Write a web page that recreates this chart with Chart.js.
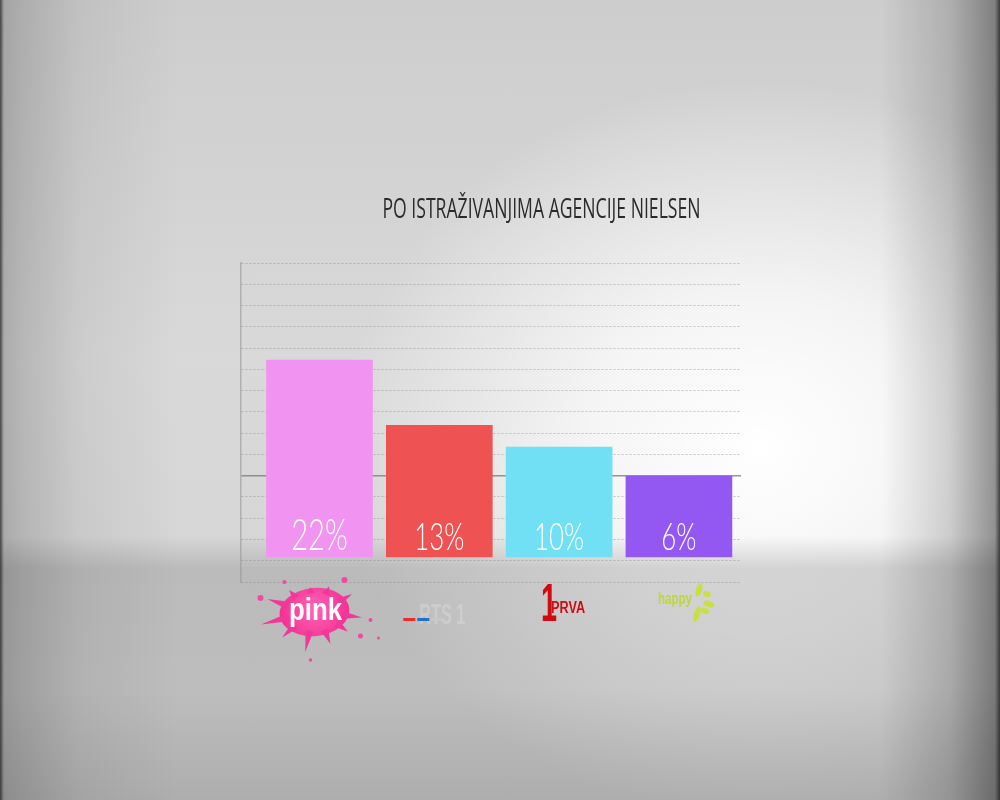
<!DOCTYPE html>
<html>
<head>
<meta charset="utf-8">
<script src="https://cdn.jsdelivr.net/npm/chart.js@4.4.1/dist/chart.umd.min.js"></script>
<style>
html,body{margin:0;padding:0;width:1000px;height:800px;overflow:hidden;}
body{
  background:
    linear-gradient(to right, rgba(20,20,20,0.75) 0px, rgba(40,40,40,0.25) 4px, rgba(0,0,0,0.16) 2%, rgba(0,0,0,0.06) 8%, rgba(0,0,0,0) 18%, rgba(0,0,0,0) 88%, rgba(0,0,0,0.15) 95%, rgba(0,0,0,0.38) 99.5%, rgba(20,20,20,0.8) 100%),
    linear-gradient(to bottom, rgba(100,100,100,0) 67%, rgba(100,100,100,0.24) 71%, rgba(100,100,100,0.2) 86%, rgba(90,90,90,0.3) 100%),
    radial-gradient(ellipse 42% 46% at 76% 56%, rgba(255,255,255,1) 0%, rgba(255,255,255,0.75) 40%, rgba(255,255,255,0) 100%),
    linear-gradient(to bottom, #cdcdcd 0%, #d9d9d9 45%, #d2d2d2 100%);
}
canvas{position:absolute;left:0;top:0;}
</style>
</head>
<body>
<canvas id="c" width="1000" height="800"></canvas>
<script>
const title = "PO ISTRAŽIVANJIMA AGENCIJE NIELSEN";
const categories = ["pink", "RTS 1", "PRVA", "happy"];
const values = [22, 13, 10, 6];
const valueLabels = ["22%", "13%", "10%", "6%"];
const barColors = ["#f193f1", "#ee5253", "#72e0f4", "#9458f2"];

const Y_MIN = -8.62, Y_MAX = 35.38, Y_BASE = -5.17;
const Y_STEP = (Y_MAX - Y_MIN) / 15;

const points = values.map((v, i) => ({x: i, y: v}));

const decor = {
  id: 'decor',
  afterDatasetsDraw(chart) {
    const ctx = chart.ctx;
    const xs = chart.scales.x, ys = chart.scales.y;
    // title
    ctx.save();
    ctx.fillStyle = '#2b2b2b';
    ctx.font = '27px "Open Sans", "Liberation Sans", sans-serif';
    ctx.textAlign = 'center';
    ctx.textBaseline = 'alphabetic';
    ctx.fillText(title, 541.5, 218, 318);
    ctx.restore();

    // value labels
    const meta = chart.getDatasetMeta(0);
    meta.data.forEach((bar, i) => {
      ctx.save();
      ctx.fillStyle = '#ffffff';
      const size = i === 0 ? 43 : 38;
      ctx.font = '300 ' + size + 'px Lato, "Open Sans", sans-serif';
      ctx.textAlign = 'center';
      ctx.textBaseline = 'alphabetic';
      ctx.translate(bar.x, 550);
      ctx.scale(0.68, 1);
      ctx.fillText(valueLabels[i], 0, 0);
      ctx.restore();
    });

    // logos (category labels)
    const y0 = ys.getPixelForValue(Y_MIN);
    // pink
    let cx = xs.getPixelForValue(0) - 5, cy = y0 + 30;
    ctx.save();
    const g = ctx.createRadialGradient(cx, cy - 4, 4, cx, cy, 40);
    g.addColorStop(0, '#ff5fb4'); g.addColorStop(1, '#f0288a');
    ctx.fillStyle = g;
    ctx.beginPath(); ctx.ellipse(cx, cy, 35, 24, -0.1, 0, Math.PI * 2); ctx.fill();
    const rays = [[-2.8, 50], [-2.3, 38], [-1.7, 32], [-1.15, 36], [-0.55, 44], [0.15, 48], [0.65, 42], [1.2, 44], [1.75, 52], [2.35, 46], [2.85, 56]];
    ctx.fillStyle = '#f0389a';
    rays.forEach(([a, r]) => {
      const bx = cx + Math.cos(a) * 28, by = cy + Math.sin(a) * 19;
      const tx = cx + Math.cos(a) * r, ty = cy + Math.sin(a) * r * 0.78;
      const nx = -Math.sin(a) * 4, ny = Math.cos(a) * 4;
      ctx.beginPath();
      ctx.moveTo(bx + nx, by + ny);
      ctx.lineTo(tx, ty);
      ctx.lineTo(bx - nx, by - ny);
      ctx.closePath();
      ctx.fill();
    });
    [[-54, -14, 3], [46, 24, 2.5], [-30, -30, 2], [30, -32, 3], [56, 8, 2], [-4, 48, 1.8], [64, 26, 1.5]].forEach(([dx, dy, r]) => {
      ctx.beginPath(); ctx.arc(cx + dx, cy + dy, r, 0, Math.PI * 2); ctx.fillStyle = '#f04aa0'; ctx.fill();
    });
    ctx.fillStyle = '#ffffff';
    ctx.font = 'bold 31px "Liberation Sans", Arial, sans-serif';
    ctx.textAlign = 'center';
    ctx.fillText(categories[0], cx + 1, cy + 8, 53);
    ctx.restore();

    // RTS
    cx = xs.getPixelForValue(1);
    ctx.save();
    ctx.fillStyle = 'rgba(230,230,230,0.35)';
    ctx.font = 'bold 30px "Liberation Sans", Arial, sans-serif';
    ctx.textAlign = 'left';
    ctx.fillText(categories[1], cx - 20, cy + 12, 46);
    ctx.fillStyle = '#ee2a2a'; ctx.fillRect(cx - 36, cy + 6, 12, 3);
    ctx.fillStyle = '#1e6fd0'; ctx.fillRect(cx - 22, cy + 6, 12, 3);
    ctx.fillStyle = '#c8c8c8'; ctx.fillRect(cx - 8, cy + 6, 11, 3);
    ctx.restore();

    // PRVA
    cx = xs.getPixelForValue(2);
    ctx.save();
    ctx.fillStyle = '#d20a12';
    ctx.font = 'bold 54px "Liberation Sans", Arial, sans-serif';
    ctx.textAlign = 'left';
    ctx.fillText('1', cx - 18, y0 + 39, 16);
    ctx.font = 'bold 16px "Liberation Sans", Arial, sans-serif';
    ctx.fillText(categories[2], cx - 8, y0 + 31, 34);
    ctx.restore();

    // happy
    cx = xs.getPixelForValue(3);
    ctx.save();
    ctx.fillStyle = '#bcd83a';
    ctx.font = 'bold 17px "Liberation Sans", Arial, sans-serif';
    ctx.textAlign = 'left';
    ctx.fillText(categories[3], cx - 21, y0 + 22, 34);
    ctx.fillStyle = 'rgba(200,224,50,0.9)';
    const sx = cx + 20, sy = y0 + 20;
    [[0, -12, 3, 7], [-2, 12, 3, 8], [10, 2, 6, 3], [8, -8, 4, 3], [6, 9, 4, 3]].forEach(([dx, dy, rx, ry]) => {
      ctx.beginPath(); ctx.ellipse(sx + dx, sy + dy, rx, ry, 0.3, 0, Math.PI * 2); ctx.fill();
    });
    ctx.restore();
  }
};

new Chart(document.getElementById('c'), {
  type: 'bar',
  data: {
    datasets: [{
      data: points,
      backgroundColor: barColors,
      borderWidth: 0,
      barThickness: 106,
      base: Y_BASE
    }]
  },
  options: {
    responsive: false,
    animation: false,
    events: [],
    layout: {padding: {left: 241, right: 259, top: 263, bottom: 218}},
    plugins: {legend: {display: false}, title: {display: false}, tooltip: {enabled: false}},
    scales: {
      x: {
        type: 'linear',
        offset: false,
        min: -0.655,
        max: 3.518,
        grid: {display: false, drawTicks: false},
        border: {display: false},
        ticks: {display: false}
      },
      y: {
        min: Y_MIN,
        max: Y_MAX,
        ticks: {display: false, stepSize: Y_STEP},
        grid: {
          drawTicks: false,
          color: (c) => c.index === 5 ? 'rgba(130,130,130,0.85)' : 'rgba(140,140,140,0.5)',
          lineWidth: (c) => c.index === 5 ? 1.5 : 1
        },
        border: {
          display: true,
          color: 'rgba(150,150,150,0.6)',
          width: 1.5,
          dash: (c) => c.index === 5 ? [] : [2, 2]
        }
      }
    }
  },
  plugins: [decor]
});
</script>
</body>
</html>
